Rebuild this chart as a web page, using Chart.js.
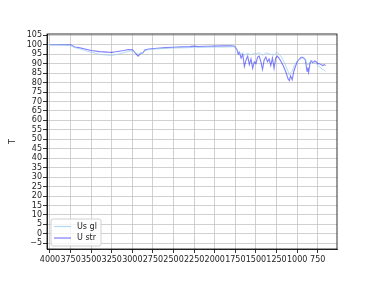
<!DOCTYPE html>
<html>
<head>
<meta charset="utf-8">
<script src="https://cdn.jsdelivr.net/npm/chart.js@4"></script>
<style>
  html, body { margin: 0; padding: 0; background: #fff; }
  #wrap { width: 375px; height: 281px; }
</style>
</head>
<body>
<div id="wrap"><canvas id="myChart"></canvas></div>
<script>
// wavenumbers (x) shared by both series
var wn = [4000, 3800, 3750, 3700, 3650, 3600, 3500, 3400, 3300, 3250, 3200, 3100, 3050, 3000,
  2960, 2930, 2900, 2870, 2850, 2800, 2700, 2600, 2500, 2400, 2300, 2250, 2200, 2100, 2000,
  1900, 1800, 1760, 1730, 1715, 1700, 1680, 1660, 1640, 1620, 1600, 1580, 1560, 1540, 1520,
  1500, 1480, 1460, 1440, 1420, 1400, 1380, 1360, 1340, 1320, 1300, 1280, 1260, 1240, 1220,
  1200, 1170, 1140, 1110, 1095, 1080, 1060, 1040, 1020, 1000, 980, 960, 940, 920, 900,
  880, 870, 860, 845, 830, 810, 790, 770, 750, 730, 710, 690, 670, 655];

var uStr = [100, 100, 100, 98.8, 98.5, 98, 97, 96.4, 96.1, 96, 96.3, 97, 97.5, 97.3,
  95.5, 94, 95.5, 95.8, 97.2, 97.8, 98.2, 98.5, 98.7, 98.9, 99, 99.3, 99.1, 99.2, 99.3,
  99.4, 99.4, 99.2, 97.5, 95, 96, 93, 95, 88.5, 92, 94, 89.5, 92.5, 87.5, 91,
  90, 93.5, 94, 91, 87, 92, 93.5, 91, 92.5, 89, 93, 87.5, 93, 94, 93,
  91.5, 89, 86, 82, 81, 83.5, 81.5, 86, 88.5, 91, 92, 93, 93.5, 93, 92,
  86, 88, 85.5, 90, 91.5, 90.5, 91.5, 91, 90, 90, 89.5, 89, 89.5, 89];

var usGl = [100, 99.8, 99.6, 98.5, 98, 97.3, 96, 95, 94.5, 94.4, 94.8, 95.8, 96.5, 96.8,
  95.8, 95, 95.3, 95.8, 96.8, 97.5, 97.8, 98.1, 98.3, 98.4, 98.5, 98.7, 98.6, 98.7, 98.8,
  98.8, 98.9, 99, 97.5, 96.5, 95.5, 95, 95.5, 94.5, 95, 95.5, 95, 94.8, 95, 95.5,
  95.2, 95.5, 95.8, 95, 94.5, 95, 95.8, 95.5, 95.2, 94.8, 95, 94.5, 95.5, 95.8, 95.2,
  94, 92, 89, 86, 84, 85, 86, 88.5, 90, 91.5, 92, 92.5, 93, 93.2, 92.5,
  90, 89.5, 90, 91, 91.5, 91.5, 90.5, 90, 89, 88.5, 87.5, 87, 86.5, 86];

var seriesNames = ["Us gl", "U str"];
var xTicks = [4000, 3750, 3500, 3250, 3000, 2750, 2500, 2250, 2000, 1750, 1500, 1250, 1000, 750];
var yTicks = [-5, 0, 5, 10, 15, 20, 25, 30, 35, 40, 45, 50, 55, 60, 65, 70, 75, 80, 85, 90, 95, 100, 105];

var fontFam = "'DejaVu Sans', sans-serif";
var gridCol = "#c4c4c4";

function pts(vals) {
  return wn.map(function (w, i) { return {x: w, y: vals[i]}; });
}

// frame + legend inside the plot, bottom left
var extras = {
  id: "extras",
  afterDatasetsDraw: function (chart) {
    var ctx = chart.ctx, a = chart.chartArea;
    ctx.save();
    ctx.strokeStyle = "#000";
    ctx.lineWidth = 0.8;
    ctx.strokeRect(a.left, a.top, a.right - a.left, a.bottom - a.top);

    var bx = a.left + 4, by = a.bottom - 30, bw = 50, bh = 27;
    ctx.fillStyle = "rgba(255,255,255,0.8)";
    ctx.strokeStyle = "#d0d0d0";
    ctx.lineWidth = 1;
    ctx.beginPath();
    ctx.roundRect(bx, by, bw, bh, 2);
    ctx.fill();
    ctx.stroke();

    ctx.font = "8px " + fontFam;
    ctx.textBaseline = "middle";
    chart.data.datasets.forEach(function (ds, i) {
      var ly = by + 7.5 + i * 11.5;
      ctx.strokeStyle = ds.borderColor;
      ctx.lineWidth = 1.2;
      ctx.beginPath();
      ctx.moveTo(bx + 3, ly);
      ctx.lineTo(bx + 20, ly);
      ctx.stroke();
      ctx.fillStyle = "#222";
      ctx.fillText(ds.label, bx + 26, ly);
    });
    ctx.restore();
  }
};

new Chart("myChart", {
  type: "line",
  data: {
    datasets: [{
      label: seriesNames[0],
      data: pts(usGl),
      borderColor: "rgba(150,200,240,0.7)",
      borderWidth: 1,
      pointRadius: 0,
      tension: 0
    }, {
      label: seriesNames[1],
      data: pts(uStr),
      borderColor: "rgba(20,20,255,0.55)",
      borderWidth: 1.1,
      pointRadius: 0,
      tension: 0
    }]
  },
  options: {
    responsive: true,
    maintainAspectRatio: false,
    animation: false,
    layout: {padding: {left: 8, top: 34, right: 38, bottom: 0}},
    plugins: {legend: {display: false}, tooltip: {enabled: false}},
    scales: {
      x: {
        type: "linear",
        reverse: true,
        min: 516,
        max: 4036,
        afterBuildTicks: function (axis) { axis.ticks = xTicks.map(function (v) { return {value: v}; }); },
        afterFit: function (axis) { axis.height = 32; },
        ticks: {
          autoSkip: false, maxRotation: 0, padding: 2,
          color: "#222", font: {family: fontFam, size: 8},
          callback: function (v) { return String(v); }
        },
        grid: {color: gridCol, lineWidth: 0.8, tickLength: 4, tickColor: "#000"},
        border: {color: "#000", width: 0.8}
      },
      y: {
        min: -8,
        max: 105.7,
        afterBuildTicks: function (axis) { axis.ticks = yTicks.map(function (v) { return {value: v}; }); },
        afterFit: function (axis) { axis.width = 39; },
        title: {display: true, text: "T", color: "#222", font: {family: fontFam, size: 8}, padding: 0},
        ticks: {
          autoSkip: false, padding: 1,
          color: "#222", font: {family: fontFam, size: 8},
          callback: function (v) { return v < 0 ? "\u2212" + Math.abs(v) : String(v); }
        },
        grid: {color: gridCol, lineWidth: 0.8, tickLength: 4, tickColor: "#000"},
        border: {color: "#000", width: 0.8}
      }
    }
  },
  plugins: [extras]
});
</script>
</body>
</html>
